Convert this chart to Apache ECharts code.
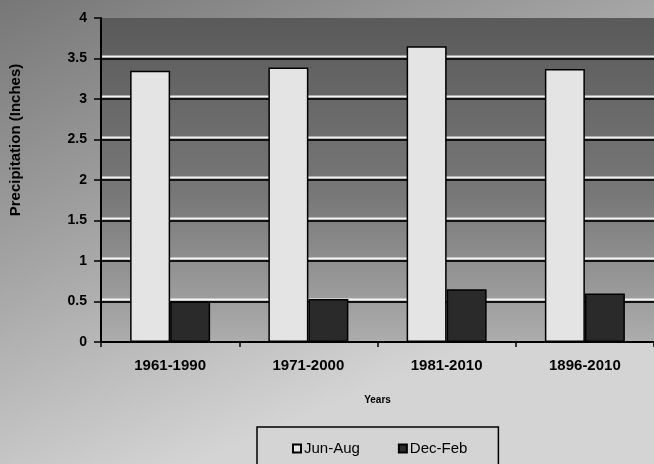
<!DOCTYPE html>
<html>
<head>
<meta charset="utf-8">
<script src="https://cdn.jsdelivr.net/npm/echarts@6/dist/echarts.min.js"></script>
<style>
  html, body { margin: 0; padding: 0; }
  #main { width: 654px; height: 464px; }
</style>
</head>
<body>
<div id="main"></div>
<script>
var periods = ['1961-1990', '1971-2000', '1981-2010', '1896-2010'];
var junAug = [3.35, 3.39, 3.65, 3.37];
var decFeb = [0.50, 0.53, 0.65, 0.60];
var yTicks = [0, 4, 0.5];

var chart = echarts.init(document.getElementById('main'), null, { renderer: 'canvas' });

var font = '"Liberation Sans", Arial, sans-serif';

var option = {
  animation: false,
  backgroundColor: {
    type: 'linear', x: 0, y: 0, x2: 0.3, y2: 1,
    colorStops: [
      { offset: 0, color: '#777777' },
      { offset: 0.5, color: '#a4a4a4' },
      { offset: 1, color: '#d4d4d4' }
    ]
  },
  textStyle: { fontFamily: font, color: '#000' },
  grid: {
    left: 96, right: -4, top: 18, bottom: 122,
    show: true,
    borderWidth: 0,
    backgroundColor: {
      type: 'linear', x: 0, y: 0, x2: 0, y2: 1,
      colorStops: [
        { offset: 0, color: '#5a5a5a' },
        { offset: 0.55, color: '#787878' },
        { offset: 1, color: '#adadad' }
      ]
    }
  },
  legend: {
    left: 257, top: 427,
    icon: 'rect',
    itemWidth: 8, itemHeight: 8, itemGap: 38,
    padding: [14, 31, 20, 35],
    borderColor: '#000', borderWidth: 1.5,
    textStyle: { fontSize: 15, color: '#000', fontFamily: font, padding: [0, 0, 0, -2] },
    data: ['Jun-Aug', 'Dec-Feb']
  },
  xAxis: {
    type: 'category',
    data: periods,
    name: 'Years',
    nameLocation: 'middle',
    nameGap: 53,
    nameTextStyle: { fontSize: 10, fontWeight: 'bold', color: '#000' },
    axisLine: { lineStyle: { color: '#000', width: 2 } },
    axisTick: { show: true, length: 5, lineStyle: { color: '#000', width: 1.5 } },
    axisLabel: { fontSize: 15, fontWeight: 'bold', color: '#000', margin: 16 }
  },
  yAxis: {
    type: 'value',
    min: yTicks[0], max: yTicks[1], interval: yTicks[2],
    name: 'Precipitation (Inches)',
    nameLocation: 'middle',
    nameGap: 78,
    nameTextStyle: { fontSize: 15, fontWeight: 'bold', color: '#000', padding: [0, 0, 0, 80] },
    axisLine: { show: true, lineStyle: { color: '#000', width: 2 } },
    axisTick: { show: true, length: 7, lineStyle: { color: '#000', width: 1.5 } },
    axisLabel: { fontSize: 14, fontWeight: 'bold', color: '#000', margin: 14 },
    splitLine: {
      show: true,
      showMinLine: false,
      showMaxLine: false,
      lineStyle: {
        color: '#111', width: 2,
        shadowColor: 'rgba(255,255,255,0.9)', shadowBlur: 0, shadowOffsetY: -2.5
      }
    }
  },
  series: [
    {
      name: 'Jun-Aug',
      type: 'bar',
      data: junAug,
      barWidth: 40,
      barGap: '0%',
      itemStyle: { color: '#e4e4e4', borderColor: '#000', borderWidth: 1.5 }
    },
    {
      name: 'Dec-Feb',
      type: 'bar',
      data: decFeb,
      barWidth: 40,
      itemStyle: { color: '#2a2a2a', borderColor: '#000', borderWidth: 1.5 }
    }
  ]
};

chart.setOption(option);
window.addEventListener('resize', chart.resize);
</script>
</body>
</html>
